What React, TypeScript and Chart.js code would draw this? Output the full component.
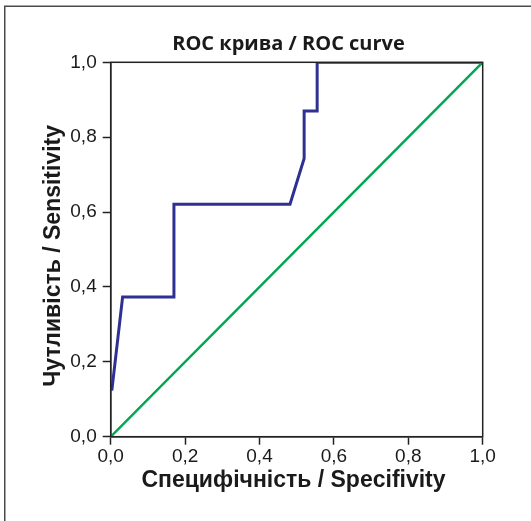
import React, { useEffect, useRef } from "react";
import { Chart, registerables } from "chart.js";

Chart.register(...registerables);

const titleText = "ROC крива / ROC curve";
const xTitle = "Специфічність / Specifivity ";
const yTitle = "Чутливість / Sensitivity  ";
const tickValues = [0, 0.2, 0.4, 0.6, 0.8, 1.0];
const rocX = [0.003, 0.032, 0.17, 0.17, 0.482, 0.52, 0.52, 0.555, 0.555, 1.0];
const rocY = [0.123, 0.373, 0.373, 0.621, 0.621, 0.743, 0.87, 0.87, 1.0, 1.0];
const refX = [0, 1];
const refY = [0, 1];

const fmt = (v: number) => v.toFixed(1).replace(".", ",");
const tickFont = "'Liberation Sans', Arial, sans-serif";
const labelFont = "'Liberation Sans', Arial, sans-serif";

const framePlugin = {
  id: "frame",
  beforeDraw(chart: any) {
    const ctx = chart.ctx;
    ctx.save();
    ctx.fillStyle = "#ffffff";
    ctx.fillRect(0, 0, chart.width, chart.height);
    ctx.strokeStyle = "#4a4a4a";
    ctx.lineWidth = 1.5;
    ctx.beginPath();
    ctx.moveTo(4.75, chart.height);
    ctx.lineTo(4.75, 6.25);
    ctx.lineTo(chart.width, 6.25);
    ctx.stroke();
    ctx.restore();
  },
  afterDatasetsDraw(chart: any) {
    const ctx = chart.ctx;
    ctx.save();
    ctx.fillStyle = "#1a1a1a";
    ctx.font = "bold 20px 'Open Sans', sans-serif";
    ctx.textAlign = "center";
    ctx.textBaseline = "alphabetic";
    ctx.fillText(titleText, 288.5, 50);
    ctx.restore();
  },
  afterDraw(chart: any) {
    const ctx = chart.ctx;
    const a = chart.chartArea;
    ctx.save();
    ctx.strokeStyle = "#222222";
    ctx.lineWidth = 1.5;
    ctx.strokeRect(a.left, a.top, a.right - a.left, a.bottom - a.top);
    ctx.restore();
  },
};

export default function App() {
  const ref = useRef<HTMLCanvasElement | null>(null);
  useEffect(() => {
    if (!ref.current) return;
    const chart = new Chart(ref.current, {
      type: "scatter",
      data: {
        datasets: [
          {
            data: refX.map((x, i) => ({ x, y: refY[i] })),
            showLine: true,
            borderColor: "#00a651",
            borderWidth: 2.5,
            pointRadius: 0,
            tension: 0,
          },
          {
            data: rocX.map((x, i) => ({ x, y: rocY[i] })),
            showLine: true,
            borderColor: "#2e3192",
            borderWidth: 3,
            pointRadius: 0,
            tension: 0,
            borderJoinStyle: "miter",
          },
        ],
      },
      plugins: [framePlugin],
      options: {
        animation: false,
        responsive: false,
        devicePixelRatio: 1,
        layout: { padding: { left: 0, top: 62.3, right: 48.3, bottom: 0 } },
        plugins: {
          legend: { display: false },
          tooltip: { enabled: false },
          title: { display: false },
        },
        scales: {
          x: {
            type: "linear",
            min: 0,
            max: 1,
            afterFit: (s: any) => {
              s.height = 84.3;
            },
            afterBuildTicks: (s: any) => {
              s.ticks = tickValues.map((v) => ({ value: v }));
            },
            border: { display: true, color: "#222", width: 1.5 },
            grid: {
              drawOnChartArea: false,
              drawTicks: true,
              tickLength: 8,
              tickColor: "#222",
              tickWidth: 1.5,
            },
            ticks: {
              callback: (v: any) => fmt(Number(v)),
              color: "#1a1a1a",
              font: { family: tickFont, size: 19 },
              padding: 1,
              maxRotation: 0,
            },
            title: {
              display: true,
              text: xTitle,
              color: "#1a1a1a",
              font: { family: labelFont, size: 23, weight: "bold" },
              padding: { top: 0, bottom: 26.5 },
            },
          },
          y: {
            type: "linear",
            min: 0,
            max: 1,
            afterFit: (s: any) => {
              s.width = 110.7;
            },
            afterBuildTicks: (s: any) => {
              s.ticks = tickValues.map((v) => ({ value: v }));
            },
            border: { display: true, color: "#222", width: 1.5 },
            grid: {
              drawOnChartArea: false,
              drawTicks: true,
              tickLength: 8,
              tickColor: "#222",
              tickWidth: 1.5,
            },
            ticks: {
              callback: (v: any) => fmt(Number(v)),
              color: "#1a1a1a",
              font: { family: tickFont, size: 19 },
              padding: 6,
            },
            title: {
              display: true,
              text: yTitle,
              color: "#1a1a1a",
              font: { family: labelFont, size: 23, weight: "bold" },
              padding: { top: 39.5, bottom: 0 },
            },
          },
        },
      },
    } as any);
    return () => chart.destroy();
  }, []);
  return (
    <div style={{ position: "fixed", left: 0, top: 0, width: 531, height: 521, background: "#fff" }}>
      <canvas ref={ref} width={531} height={521} style={{ display: "block", width: 531, height: 521 }} />
    </div>
  );
}
